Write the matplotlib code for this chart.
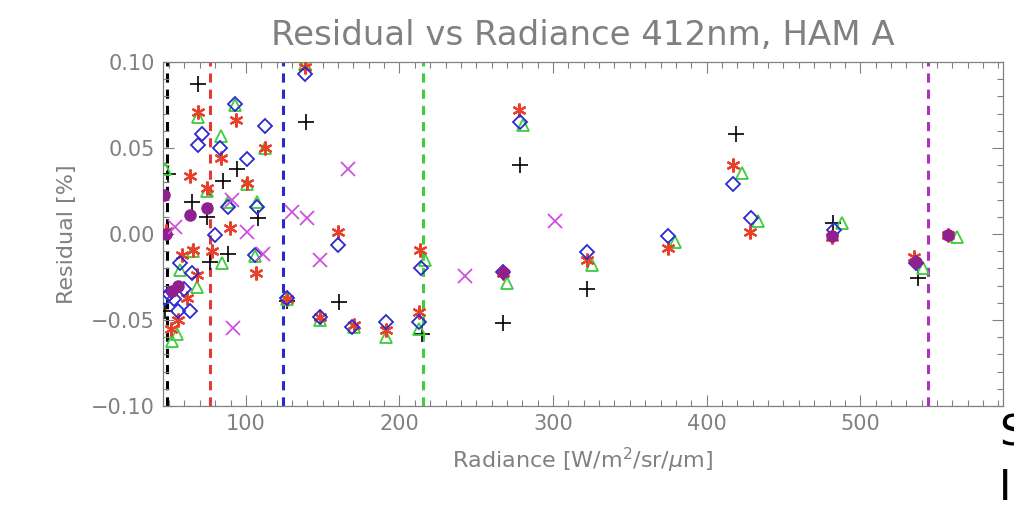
import matplotlib.pyplot as plt
from matplotlib.ticker import MultipleLocator, FuncFormatter

# radiance [W/m2/sr/um] and residual [%] for each detector set
plus_rad = [47.3, 49.0, 64.9, 68.8, 74.7, 76.6, 85.1, 88.3, 94.2, 107.9, 127.0,
            139.0, 160.7, 214.7, 267.5, 278.6, 322.2, 419.3, 482.4, 537.9]
plus_res = [-0.045, 0.035, 0.0186, 0.087, 0.0099, -0.0163, 0.031, -0.0116, 0.038,
            0.0093, -0.039, 0.065, -0.0395, -0.058, -0.052, 0.040, -0.032, 0.058,
            0.0064, -0.0256]

tri_rad = [47.3, 52.0, 55.0, 57.0, 65.5, 68.0, 68.8, 74.7, 83.8, 84.4, 88.3,
           92.9, 100.7, 106.0, 107.0, 112.4, 127.0, 138.5, 148.0, 170.4, 191.3,
           212.8, 216.7, 270.0, 280.5, 325.5, 379.6, 423.2, 433.6, 488.3, 541.0,
           563.3]
tri_res = [0.038, -0.062, -0.058, -0.021, -0.010, -0.031, 0.068, 0.025, 0.057,
           -0.0169, 0.0186, 0.075, 0.029, -0.013, 0.0186, 0.050, -0.038, 0.099,
           -0.050, -0.054, -0.060, -0.055, -0.0151, -0.0285, 0.0634, -0.018,
           -0.0047, 0.0355, 0.0076, 0.0064, -0.0198, -0.0017]

star_rad = [48.0, 51.5, 56.0, 58.4, 61.6, 63.6, 65.5, 68.0, 68.8, 74.7, 77.9,
            83.8, 89.6, 93.5, 100.7, 106.6, 112.4, 127.0, 138.5, 148.0, 160.0,
            170.4, 191.3, 212.8, 213.4, 267.5, 277.9, 322.2, 375.0, 417.3, 428.4,
            481.8, 535.3, 557.4]
star_res = [0.002, -0.055, -0.050, -0.0122, -0.037, 0.034, -0.0093, -0.024,
            0.071, 0.027, -0.010, 0.044, 0.0035, 0.066, 0.0297, -0.0227, 0.050,
            -0.038, 0.097, -0.048, 0.001, -0.0529, -0.056, -0.0453, -0.0093,
            -0.0227, 0.072, -0.015, -0.008, 0.040, 0.0012, -0.0017, -0.0134,
            -0.0006]

dia_rad = [47.3, 50.0, 53.0, 55.8, 57.0, 60.0, 63.6, 64.9, 68.8, 71.4, 79.9,
           83.1, 88.3, 92.9, 100.7, 106.0, 107.0, 112.4, 127.0, 138.5, 148.0,
           160.0, 169.0, 191.3, 212.8, 214.0, 267.5, 278.2, 322.2, 375.0, 417.3,
           429.0, 483.1, 536.6]
dia_res = [-0.037, -0.035, -0.038, -0.045, -0.0169, -0.032, -0.045, -0.0227,
           0.052, 0.058, -0.0006, 0.050, 0.0157, 0.0756, 0.0436, -0.0122, 0.0157,
           0.0628, -0.037, 0.093, -0.048, -0.0064, -0.054, -0.051, -0.051,
           -0.0198, -0.022, 0.065, -0.0105, -0.0012, 0.029, 0.0093, 0.0023,
           -0.0169]

dot_rad = [47.0, 48.0, 52.0, 56.0, 63.6, 74.7, 267.5, 481.8, 536.6, 557.4]
dot_res = [0.0227, 0.0, -0.033, -0.030, 0.011, 0.015, -0.022, -0.0012, -0.016,
           -0.0006]

x_rad = [54.0, 91.0, 91.6, 100.7, 111.0, 130.0, 139.8, 148.3, 166.5, 242.7, 301.4]
x_res = [0.004, 0.0198, -0.0547, 0.001, -0.0116, 0.0128, 0.0093, -0.0151, 0.038,
         -0.0244, 0.0076]

# typical radiance of each band
band_rad = [48.5, 76.6, 124.0, 215.5, 544.0]
band_col = ['black', '#e03a3a', '#2a2ac8', '#40cc40', '#b030c0']

grey = '#808080'
fig = plt.figure(figsize=(10.14, 5.08), dpi=100)
ax = fig.add_axes([0.1607, 0.2008, 0.8285, 0.6772])

for r, c in zip(band_rad, band_col):
    ax.axvline(r, color=c, lw=2.2, dashes=(3, 2.3), zorder=1)

ax.plot(plus_rad, plus_res, '+', color='black', ms=11, mew=1.2, zorder=3)
ax.plot(tri_rad, tri_res, '^', mfc='none', mec='#3ccc3c', ms=9, mew=1.3, zorder=3)
ax.plot(star_rad, star_res, marker=(6, 2, 0), ls='none', color='#e8402a',
        ms=10, mew=1.6, zorder=4)
ax.plot(dia_rad, dia_res, 'D', mfc='none', mec='#2a2ad0', ms=7, mew=1.3, zorder=4)
ax.plot(dot_rad, dot_res, 'o', color='#902090', ms=8, zorder=5)
ax.plot(x_rad, x_res, 'x', color='#d050e0', ms=10, mew=1.3, zorder=5)

ax.set_xlim(46, 593)
ax.set_ylim(-0.1, 0.1)
ax.xaxis.set_major_locator(MultipleLocator(100))
ax.xaxis.set_minor_locator(MultipleLocator(10))
ax.yaxis.set_major_locator(MultipleLocator(0.05))
ax.yaxis.set_minor_locator(MultipleLocator(0.01))
ax.yaxis.set_major_formatter(FuncFormatter(lambda v, p: f'{v:.2f}'.replace('-', '\u2212')))
ax.tick_params(which='both', direction='in', top=True, right=True, color=grey,
               labelcolor=grey, labelsize=15, width=0.8, pad=6)
ax.tick_params(which='major', length=8)
ax.tick_params(which='minor', length=4)
for s in ax.spines.values():
    s.set_color(grey)
    s.set_linewidth(0.9)

ax.set_title('Residual vs Radiance 412nm, HAM A', fontsize=24.5, color=grey, pad=12)
ax.set_xlabel(r'Radiance [W/m$^2$/sr/$\mu$m]', fontsize=16, color=grey, labelpad=8)
ax.set_ylabel('Residual [%]', fontsize=16, color=grey, labelpad=10)

fig.text(0.985, 0.146, 'S', fontsize=30, color='black', va='center', ha='left')
fig.text(0.985, 0.040, 'I', fontsize=30, color='black', va='center', ha='left')

fig.savefig('out.png', dpi=100)
